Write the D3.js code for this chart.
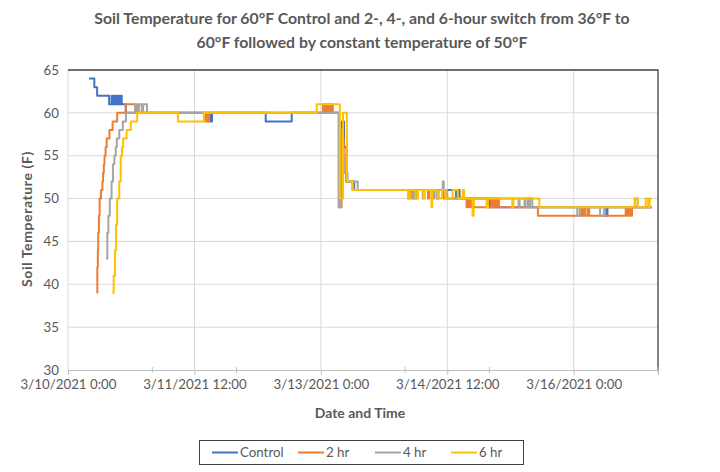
<!DOCTYPE html>
<html>
<head>
<meta charset="utf-8">
<script src="https://cdn.jsdelivr.net/npm/d3@7"></script>
<style>
  body { margin: 0; background: #fff; }
  text { font-family: Lato, "Open Sans", sans-serif; fill: #595959; }
</style>
</head>
<body>
<div id="chart"></div>
<script>
// hours after 3/10/2021 0:00, temperature (F); each point holds until the next one
var control = [[6.0,64],[7.5,63],[8.3,62],[11.7,61],[12.4,62],[12.8,61],[13.3,62],[13.7,61],[14.2,62],[14.6,61],[15.0,62],[15.3,61],[16.5,60],
  [40.5,59],[41.0,60],[56.3,59],[63.7,60],[77.2,55],[78.0,59],[78.6,56],[79.3,52],[81.5,51],
  [99.0,50],[99.4,51],[110.5,50],[110.9,51],[111.5,50],[119.5,49],[119.8,50],[120.2,49],[131.0,50],[131.4,49],
  [153.3,48],[153.6,49],[166.2,49]];

var twoHr = [[8.2,39],[8.35,42],[8.5,44],[8.6,46],[8.8,48],[9.0,50],[9.4,51],[9.8,52],[10.0,53],[10.2,54],[10.4,55],[10.7,56],[11.0,57],
  [11.8,58],[12.7,59],[14.0,60],[16.4,61],[19.4,60],[39.2,59],[39.6,60],[39.9,59],[40.2,60],
  [72.6,61],[73.2,60],[73.5,61],[74.0,60],[74.3,61],[74.8,60],[75.0,61],[75.4,60],[77.1,49],[77.9,57],[78.5,53],[79.2,52],[81.0,51],
  [96.8,50],[97.3,51],[97.8,50],[98.3,51],[102.5,50],[102.9,51],[105.0,50],[105.5,51],[107.0,50],
  [113.5,49],[114.0,50],[114.5,49],[114.8,50],[115.5,49],[120.5,50],[120.9,49],[121.4,50],[121.8,49],[122.3,50],[122.7,49],
  [133.8,48],[146.0,49],[146.4,48],[146.8,49],[147.3,48],[148.0,49],[148.4,48],[158.8,49],[159.3,48],[159.8,49],[160.3,48],[160.6,49],[166.2,49]];

var fourHr = [[10.8,43],[11.2,46],[11.5,48],[11.9,50],[12.4,52],[12.8,54],[13.2,55],[13.6,56],[13.9,57],[14.6,58],[15.6,59],[16.5,60],
  [19.1,61],[19.8,60],[20.2,61],[21.0,60],[21.4,61],[22.5,60],[77.1,49],[77.7,58],[78.3,55],[79.0,53],[79.6,52],[82.5,51],
  [98.3,50],[98.7,51],[101.0,50],[101.5,51],[104.0,50],[104.3,51],[105.0,50],[105.4,51],[106.7,52],[107.0,51],[108.0,50],
  [128.3,49],[128.6,50],[130.0,49],[130.3,50],[131.0,49],[131.5,50],[132.2,49],[145.0,48],[145.7,49],[151.5,48],[152.6,49],
  [161.4,50],[162.2,49],[166.2,49]];

var sixHr = [[12.6,39],[13.0,41],[13.4,44],[13.7,47],[14.0,50],[14.6,52],[15.0,55],[15.4,56],[15.7,57],[16.7,58],[17.9,59],[19.7,60],
  [31.3,59],[38.7,60],[70.8,61],[77.4,50],[78.3,60],[79.4,52],[81.1,51],
  [96.8,50],[97.5,51],[99.0,50],[99.6,51],[101.2,50],[101.5,51],[103.5,49],[103.7,51],[105.3,50],[106.5,51],[107.5,50],
  [109.5,51],[111.0,50],[112.4,51],[112.8,50],[115.2,48],[115.5,50],[119.2,49],[119.6,50],[126.5,49],[126.8,50],
  [134.2,49],[161.4,50],[162.2,49],[164.5,50],[165.2,49],[165.6,50],[166.2,50]];

var seriesNames = ["Control", "2 hr", "4 hr", "6 hr"];
var seriesColors = ["#4472C4", "#ED7D31", "#A5A5A5", "#FFC000"];
var seriesData = [control, twoHr, fourHr, sixHr];

var majorHours = [0, 36, 72, 108, 144];
var minorHours = [24, 48, 96, 120, 168];
var xTickLabels = ["3/10/2021 0:00", "3/11/2021 12:00", "3/13/2021 0:00", "3/14/2021 12:00", "3/16/2021 0:00"];
var yTicks = [30, 35, 40, 45, 50, 55, 60, 65];

var titleLines = ["Soil Temperature for 60°F Control and 2-, 4-, and 6-hour switch from 36°F to",
                  "60°F followed by constant temperature of 50°F"];

var width = 720, height = 472;
var margin = {top: 70, right: 62, bottom: 102, left: 68};

var svg = d3.select("#chart").append("svg")
    .attr("width", width)
    .attr("height", height);

var x = d3.scaleLinear().domain([0, 168]).range([margin.left, width - margin.right]);
var y = d3.scaleLinear().domain([30, 65]).range([height - margin.bottom, margin.top]);

// gridlines
svg.append("g")
    .selectAll("line")
    .data(yTicks.slice(1, -1))
    .enter().append("line")
    .attr("x1", x(0)).attr("x2", x(168))
    .attr("y1", function(d) { return y(d); }).attr("y2", function(d) { return y(d); })
    .attr("stroke", "#d9d9d9");

svg.append("g")
    .selectAll("line")
    .data(majorHours.slice(1))
    .enter().append("line")
    .attr("x1", function(d) { return x(d); }).attr("x2", function(d) { return x(d); })
    .attr("y1", y(65)).attr("y2", y(30))
    .attr("stroke", "#d9d9d9");

// left axis line (light) and top/right border (dark)
svg.append("line")
    .attr("x1", x(0)).attr("x2", x(0)).attr("y1", y(65)).attr("y2", y(30))
    .attr("stroke", "#d9d9d9");
svg.append("path")
    .attr("d", "M" + x(0) + "," + y(65) + "H" + x(168) + "V" + y(30))
    .attr("fill", "none")
    .attr("stroke", "#404040")
    .attr("stroke-width", 1.3);

// x axis
var xAxis = svg.append("g")
    .attr("transform", "translate(0," + y(30) + ")")
    .call(d3.axisBottom(x).tickValues(majorHours).tickSize(5).tickPadding(5)
      .tickFormat(function(d, i) { return xTickLabels[i]; }));
xAxis.select(".domain").attr("stroke", "#bfbfbf");
xAxis.selectAll(".tick line").attr("stroke", "#bfbfbf");
xAxis.selectAll("text").attr("font-size", "13.3px").attr("fill", "#595959");

svg.append("g")
    .selectAll("line")
    .data(minorHours)
    .enter().append("line")
    .attr("x1", function(d) { return x(d); }).attr("x2", function(d) { return x(d); })
    .attr("y1", y(30) - 3).attr("y2", y(30) + 3)
    .attr("stroke", "#bfbfbf");

// y axis labels
svg.append("g")
    .selectAll("text")
    .data(yTicks)
    .enter().append("text")
    .attr("x", x(0) - 9)
    .attr("y", function(d) { return y(d); })
    .attr("dy", "0.35em")
    .attr("text-anchor", "end")
    .attr("font-size", "13.3px")
    .text(function(d) { return d; });

// lines
var line = d3.line()
    .x(function(d) { return x(d[0]); })
    .y(function(d) { return y(d[1]); })
    .curve(d3.curveStepAfter);

svg.append("g")
    .selectAll("path")
    .data(seriesData)
    .enter().append("path")
    .attr("d", line)
    .attr("fill", "none")
    .attr("stroke", function(d, i) { return seriesColors[i]; })
    .attr("stroke-width", 2)
    .attr("stroke-linejoin", "round");

// titles
svg.append("g")
    .selectAll("text")
    .data(titleLines)
    .enter().append("text")
    .attr("x", 362)
    .attr("y", function(d, i) { return 24 + i * 24; })
    .attr("text-anchor", "middle")
    .attr("font-size", "15.8px")
    .attr("font-weight", "bold")
    .text(function(d) { return d; });

svg.append("text")
    .attr("x", 360).attr("y", 418)
    .attr("text-anchor", "middle")
    .attr("font-size", "14px")
    .attr("font-weight", "bold")
    .text("Date and Time");

svg.append("text")
    .attr("transform", "translate(32,219) rotate(-90)")
    .attr("text-anchor", "middle")
    .attr("font-size", "14px")
    .attr("font-weight", "bold")
    .attr("letter-spacing", "0.6px")
    .text("Soil Temperature (F)");

// legend
var legend = svg.append("g");
legend.append("rect")
    .attr("x", 199.5).attr("y", 440.5)
    .attr("width", 324).attr("height", 24)
    .attr("fill", "#fff")
    .attr("stroke", "#404040");

var legendX = [212, 298, 375, 451];
var item = legend.selectAll("g.item")
    .data(seriesNames)
    .enter().append("g")
    .attr("class", "item")
    .attr("transform", function(d, i) { return "translate(" + legendX[i] + ",452.5)"; });
item.append("line")
    .attr("x1", 0).attr("x2", 26)
    .attr("stroke", function(d, i) { return seriesColors[i]; })
    .attr("stroke-width", 2);
item.append("text")
    .attr("x", 28).attr("dy", "0.35em")
    .attr("font-size", "13.3px")
    .text(function(d) { return d; });
</script>
</body>
</html>
